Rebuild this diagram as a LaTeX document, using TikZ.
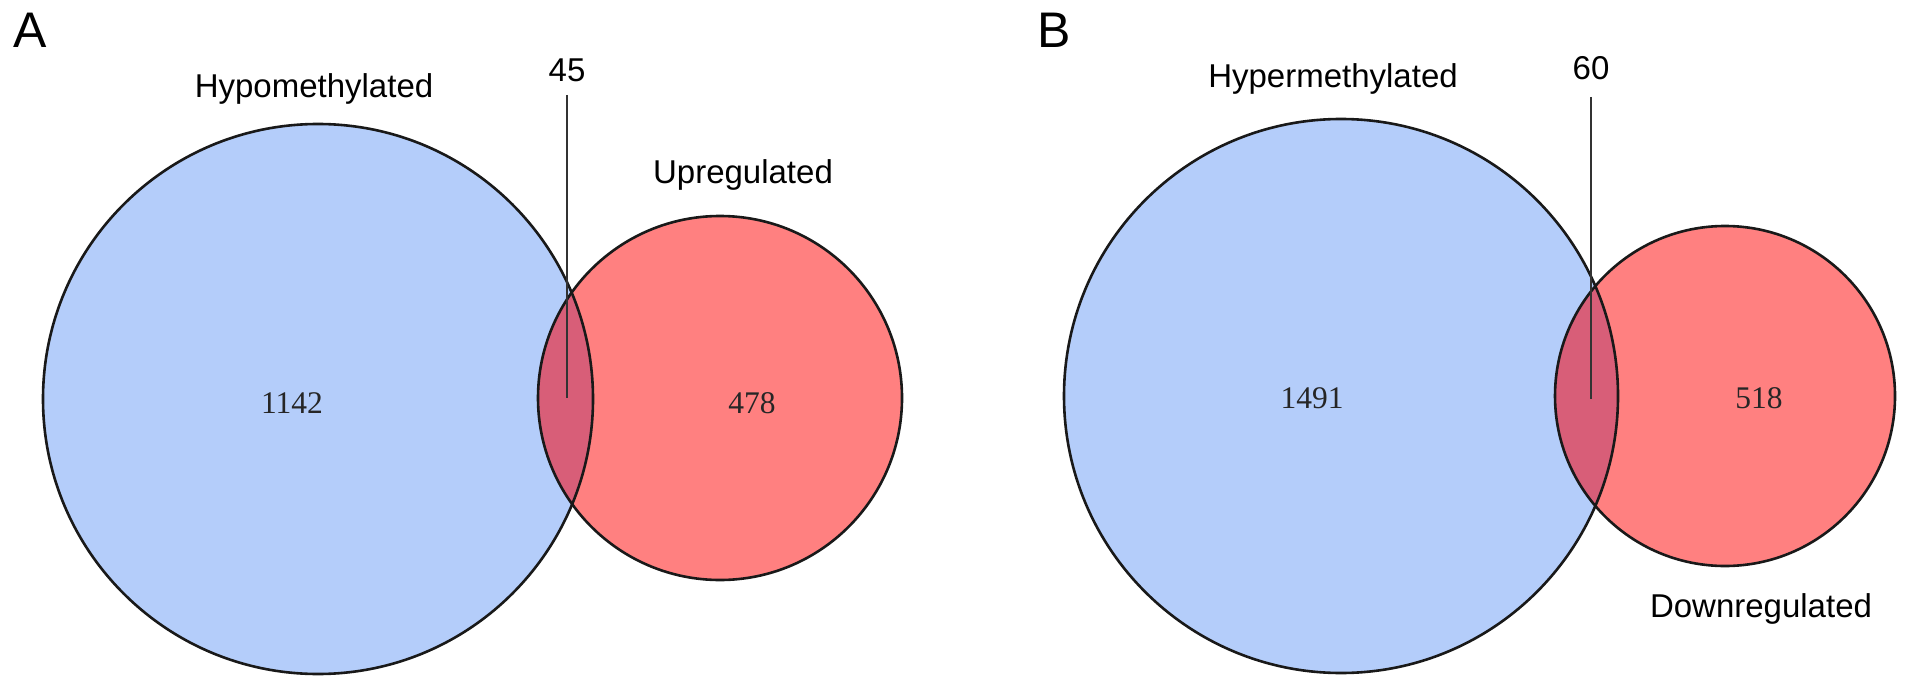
\documentclass[tikz,border=0pt]{standalone}
\usepackage{fontspec}
\setmainfont{Liberation Serif}
\newfontfamily\labelfont{Liberation Sans}
\definecolor{setblue}{RGB}{180,205,250}
\definecolor{setred}{RGB}{255,128,128}
\definecolor{setmix}{RGB}{216,94,120}
\definecolor{edge}{RGB}{25,25,25}
\tikzset{
  setfill/.style={circle, inner sep=0pt, outer sep=0pt, draw=none, minimum size=#1},
  outline/.style={draw=edge, line width=2.6pt},
  setlabel/.style={font=\labelfont\fontsize{33}{40}\selectfont, inner sep=0pt, anchor=base},
  countlabel/.style={font=\fontsize{31.5}{38}\selectfont, inner sep=0pt, anchor=base, text=black!85},
  panel/.style={font=\labelfont\fontsize{50}{60}\selectfont, inner sep=0pt, anchor=base west},
  leader/.style={draw=black!80, line width=1.8pt}
}
\begin{document}
\begin{tikzpicture}[x=1pt,y=-1pt]
\useasboundingbox (0,0) rectangle (1913,695);
% Panel A
\node[setfill=550pt, fill=setblue] (hypo) at (318,399) {};
\node[setfill=364pt, fill=setred] (up) at (720,398) {};
\begin{scope}
  \clip (hypo.center) circle[radius=275pt];
  \fill[setmix] (up.center) circle[radius=182pt];
\end{scope}
\draw[outline] (hypo.center) circle[radius=275pt];
\draw[outline] (up.center) circle[radius=182pt];
\node[panel] (pA) at (13,48) {A};
\node[setlabel] (lhypo) at (314,98) {Hypomethylated};
\node[setlabel] (lup) at (743,184) {Upregulated};
\node[setlabel] (n45) at (567,82) {45};
\coordinate (t45) at (567,95);
\coordinate (b45) at (567,398);
\draw[leader] (t45) -- (b45);
\node[countlabel] (c1142) at (292,413) {1142};
\node[countlabel] (c478) at (752,413) {478};
% Panel B
\node[setfill=554pt, fill=setblue] (hyper) at (1341,396) {};
\node[setfill=340pt, fill=setred] (down) at (1725,396) {};
\begin{scope}
  \clip (hyper.center) circle[radius=277pt];
  \fill[setmix] (down.center) circle[radius=170pt];
\end{scope}
\draw[outline] (hyper.center) circle[radius=277pt];
\draw[outline] (down.center) circle[radius=170pt];
\node[panel] (pB) at (1037,48) {B};
\node[setlabel] (lhyper) at (1333,88) {Hypermethylated};
\node[setlabel] (ldown) at (1761,617) {Downregulated};
\node[setlabel] (n60) at (1591,80) {60};
\coordinate (t60) at (1591,97);
\coordinate (b60) at (1591,399);
\draw[leader] (t60) -- (b60);
\node[countlabel] (c1491) at (1312,408) {1491};
\node[countlabel] (c518) at (1759,408) {518};
\end{tikzpicture}
\end{document}
